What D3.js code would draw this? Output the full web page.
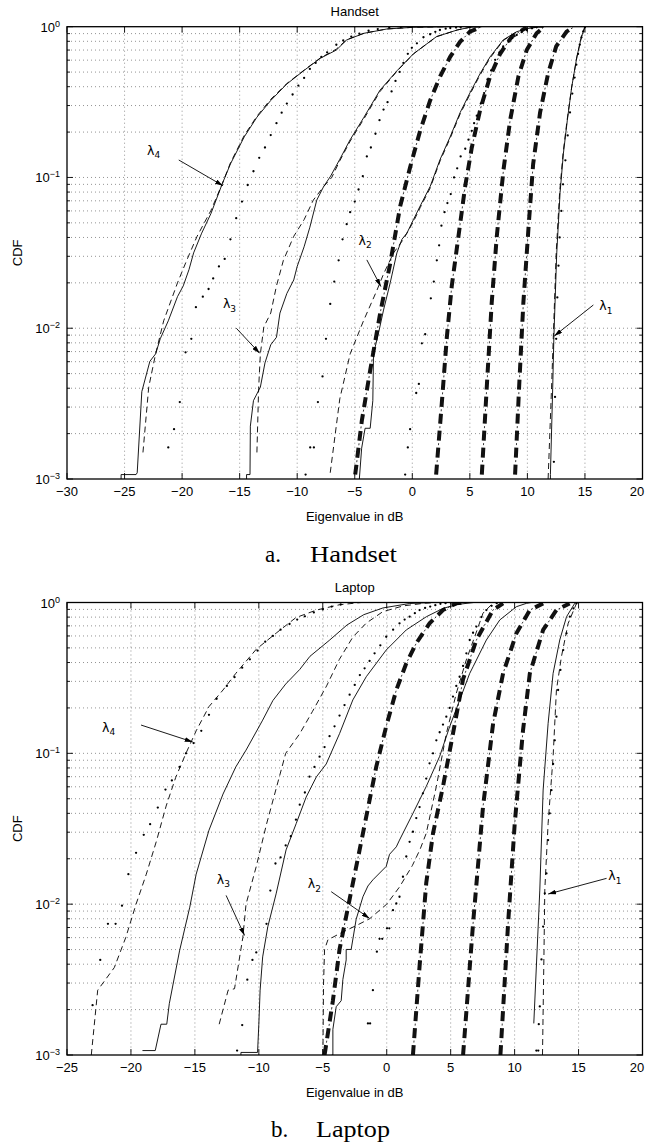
<!DOCTYPE html>
<html>
<head>
<meta charset="utf-8">
<script src="https://cdn.jsdelivr.net/npm/d3@7"></script>
<style>
  body { margin: 0; background: #fff; }
  svg { display: block; }
</style>
</head>
<body>
<script>
// ---- data: [eigenvalue in dB, CDF] ----

var yDecades = [1e-3, 1e-2, 1e-1, 1];
var hsXTicks = [-30, -25, -20, -15, -10, -5, 0, 5, 10, 15, 20];
var lpXTicks = [-25, -20, -15, -10, -5, 0, 5, 10, 15, 20];

// Handset
var hsL4Solid = [[-25.3,0.001],[-25.3,0.00107],[-24.0,0.00107],[-23.9,0.0011],[-23.5,0.0038],[-22.8,0.00603],[-22.3,0.00676],[-21.9,0.00851],[-21.2,0.0112],[-20.4,0.0162],[-19.9,0.0191],[-19.4,0.0245],[-19.0,0.0316],[-18.3,0.0427],[-17.5,0.0575],[-16.5,0.0912],[-15.8,0.123],[-14.6,0.186],[-13.5,0.251],[-12.3,0.324],[-10.9,0.417],[-9.4,0.513],[-8.0,0.617],[-6.6,0.7],[-5.7,0.817],[-4.2,0.904],[-2.2,0.966],[0.1,0.991],[3.0,1.0]];
var hsL4Dashed = [[-23.4,0.0015],[-22.9,0.00407],[-22.3,0.00676],[-21.6,0.0112],[-20.4,0.02],[-19.6,0.0282],[-18.7,0.0407],[-17.5,0.0603],[-16.5,0.0912],[-15.8,0.125],[-14.6,0.19],[-13.5,0.255],[-12.3,0.33],[-10.9,0.42],[-9.4,0.515],[-8.0,0.62],[-6.6,0.71],[-5.7,0.82],[-4.2,0.905],[-2.2,0.966],[0.1,0.991],[3.0,1.0]];
var hsL4Dotted = [[-21.2,0.00162],[-20.7,0.00214],[-20.2,0.00324],[-19.7,0.00692],[-19.2,0.00851],[-18.8,0.0138],[-18.2,0.0162],[-17.7,0.0182],[-17.3,0.0214],[-16.8,0.0257],[-16.3,0.0288],[-15.8,0.0389],[-15.3,0.0537],[-14.8,0.0692],[-14.3,0.0891],[-13.8,0.11],[-13.3,0.135],[-12.8,0.158],[-12.3,0.191],[-11.8,0.229],[-11.35,0.269],[-10.9,0.309],[-10.4,0.355],[-9.9,0.407],[-9.4,0.457],[-8.9,0.525],[-8.4,0.575],[-7.9,0.63],[-7.4,0.676],[-6.6,0.759],[-6.0,0.81],[-5.3,0.86],[-4.6,0.9],[-3.8,0.94],[-3.0,0.965],[-2.0,0.985],[-1.0,0.995]];
var hsL3Solid = [[-14.4,0.001],[-14.4,0.00107],[-14.1,0.00107],[-14.07,0.00224],[-13.8,0.00331],[-13.2,0.00407],[-12.8,0.00589],[-12.3,0.00776],[-11.8,0.00871],[-11.5,0.0126],[-10.9,0.017],[-10.3,0.0209],[-10.0,0.0257],[-9.4,0.0347],[-8.9,0.0468],[-8.3,0.0708],[-7.7,0.0871],[-7.1,0.102],[-6.3,0.132],[-5.4,0.178],[-4.2,0.251],[-2.8,0.38],[-1.3,0.513],[0.1,0.661],[2.1,0.859],[3.9,0.951],[5.0,0.991],[6.0,1.0]];
var hsL3Dashed = [[-13.5,0.0015],[-13.35,0.004],[-13.2,0.00676],[-12.9,0.0102],[-12.3,0.0126],[-11.8,0.0191],[-11.2,0.0282],[-10.3,0.0407],[-9.4,0.0525],[-8.6,0.0708],[-7.7,0.0871],[-7.0,0.1],[-6.3,0.129],[-5.4,0.174],[-4.2,0.245],[-2.8,0.372],[-1.3,0.51],[0.1,0.66],[2.1,0.859],[3.9,0.951],[5.0,0.991],[6.0,1.0]];
var hsL3Dotted = [[-9.27,0.00107],[-8.87,0.00162],[-8.55,0.00162],[-8.2,0.00324],[-7.8,0.00479],[-7.5,0.00851],[-7.13,0.0145],[-6.78,0.0204],[-6.4,0.0282],[-6.06,0.0389],[-5.7,0.049],[-5.4,0.0589],[-5.0,0.0692],[-4.67,0.0832],[-4.3,0.102],[-3.95,0.138],[-3.6,0.158],[-3.2,0.195],[-2.85,0.24],[-2.5,0.282],[-2.15,0.316],[-1.8,0.372],[-1.46,0.437],[-1.1,0.501],[-0.77,0.575],[-0.39,0.661],[-0.04,0.724],[0.4,0.776],[0.97,0.851],[1.55,0.891],[2.0,0.925],[2.4,0.951],[2.9,0.97],[3.3,0.98],[3.8,0.988],[4.2,0.993],[5.0,1.0]];
var hsL2Solid = [[-4.6,0.001],[-4.4,0.0016],[-4.1,0.00217],[-3.66,0.00217],[-3.43,0.00331],[-3.37,0.00676],[-2.93,0.00933],[-2.5,0.0132],[-1.92,0.02],[-1.34,0.0316],[-0.9,0.0389],[-0.47,0.0427],[0.1,0.0525],[0.68,0.0646],[1.55,0.0871],[2.42,0.132],[3.29,0.186],[4.15,0.269],[5.0,0.363],[5.9,0.49],[6.76,0.631],[7.9,0.817],[9.07,0.927],[10.23,0.98],[11.4,1.0]];
var hsL2Dashed = [[-7.13,0.0011],[-6.3,0.0034],[-5.4,0.00676],[-4.24,0.0112],[-3.08,0.0178],[-2.5,0.0229],[-1.63,0.0316],[-0.77,0.0389],[0.1,0.051],[0.68,0.063],[1.55,0.085],[2.42,0.129],[3.29,0.182],[4.15,0.263],[5.0,0.355],[5.9,0.48],[6.76,0.62],[7.9,0.81],[9.07,0.925],[10.23,0.98],[11.4,1.0]];
var hsL2Dotted = [[-0.62,0.00107],[-0.39,0.00162],[-0.19,0.00214],[0.34,0.00372],[0.57,0.00427],[0.83,0.00794],[1.12,0.00912],[1.61,0.0158],[1.87,0.0204],[2.13,0.0282],[2.33,0.0355],[2.53,0.0479],[2.8,0.0589],[3.05,0.0676],[3.34,0.0776],[3.63,0.1],[3.9,0.115],[4.2,0.138],[4.6,0.155],[4.88,0.178],[5.17,0.204],[5.37,0.229],[5.6,0.257],[5.95,0.309],[6.24,0.363],[6.53,0.447],[6.85,0.513],[7.2,0.603],[7.57,0.676],[7.9,0.741],[8.35,0.794],[8.7,0.84],[9.07,0.881],[9.5,0.92],[9.94,0.951],[10.4,0.975],[10.8,0.991],[11.3,1.0]];
var hsL1Solid = [[12.0,0.001],[12.0,0.00107],[12.2,0.00407],[12.3,0.00871],[12.55,0.0316],[12.84,0.0794],[13.13,0.145],[13.47,0.24],[13.85,0.398],[14.3,0.631],[14.7,0.859],[15.0,1.0]];
var hsL1Dashed = [[11.8,0.001],[12.1,0.00407],[12.25,0.00871],[12.5,0.0316],[12.8,0.0794],[13.1,0.145],[13.45,0.24],[13.85,0.398],[14.3,0.631],[14.7,0.859],[15.0,1.0]];
var hsL1Dotted = [[12.3,0.0013],[12.4,0.0035],[12.5,0.0085],[12.6,0.016],[12.7,0.026],[12.8,0.04],[12.95,0.06],[13.1,0.09],[13.3,0.13],[13.5,0.19],[13.7,0.27],[13.9,0.36],[14.1,0.46],[14.25,0.56],[14.4,0.66],[14.55,0.76],[14.7,0.85],[14.85,0.93],[15.0,0.99]];
var hsThick1 = [[-4.96,0.00107],[-4.38,0.00245],[-3.66,0.00525],[-2.79,0.0126],[-1.92,0.0269],[-1.05,0.0646],[-0.19,0.117],[0.68,0.204],[1.55,0.324],[2.42,0.468],[3.29,0.631],[4.15,0.794],[5.0,0.927],[5.9,0.991]];
var hsThick2 = [[2.07,0.00107],[2.56,0.00316],[3.0,0.00871],[3.43,0.0191],[4.01,0.0407],[4.59,0.0871],[5.17,0.158],[5.9,0.282],[6.76,0.468],[7.63,0.661],[8.64,0.859],[9.94,0.991]];
var hsThick3 = [[6.04,0.00107],[6.47,0.00407],[6.9,0.0148],[7.34,0.0407],[7.92,0.112],[8.5,0.24],[9.22,0.468],[9.94,0.7],[10.8,0.904],[11.4,0.991]];
var hsThick4 = [[8.93,0.00107],[9.28,0.00407],[9.65,0.0148],[10.1,0.0468],[10.5,0.123],[11.1,0.269],[11.8,0.49],[12.5,0.741],[13.4,0.927],[14.0,0.991]];

// Laptop
var lpL4Solid = [[-19.1,0.00107],[-18.1,0.00107],[-17.65,0.0016],[-17.2,0.0016],[-17.0,0.00219],[-16.2,0.0049],[-15.4,0.00955],[-14.9,0.0158],[-13.9,0.0309],[-12.8,0.0537],[-11.8,0.0813],[-11.0,0.105],[-9.7,0.166],[-8.9,0.224],[-7.9,0.288],[-6.8,0.36],[-6.0,0.44],[-4.5,0.56],[-3.1,0.71],[-1.8,0.83],[-0.3,0.92],[1.8,0.985],[3.5,1.0]];
var lpL4Dashed = [[-23.1,0.001],[-22.6,0.00269],[-21.3,0.0038],[-20.4,0.00603],[-19.6,0.01],[-18.8,0.0158],[-18.0,0.0263],[-17.25,0.0447],[-16.5,0.0692],[-15.7,0.1],[-14.9,0.141],[-13.9,0.204],[-12.8,0.263],[-11.8,0.339],[-10.2,0.49],[-8.6,0.631],[-7.1,0.794],[-5.5,0.891],[-3.7,0.966],[-2.0,1.0]];
var lpL4Dotted = [[-23.0,0.00214],[-22.4,0.00427],[-21.8,0.00741],[-21.2,0.00741],[-20.7,0.00977],[-20.2,0.0158],[-19.6,0.0219],[-19.0,0.0288],[-18.5,0.0339],[-17.9,0.0437],[-17.3,0.0575],[-16.8,0.0661],[-16.2,0.0813],[-15.7,0.1],[-15.1,0.117],[-14.5,0.141],[-13.9,0.18],[-13.3,0.23],[-12.5,0.28],[-11.9,0.32],[-11.3,0.37],[-10.7,0.42],[-10.1,0.48],[-9.5,0.55],[-8.9,0.6],[-8.3,0.66],[-7.6,0.72],[-7.0,0.77],[-6.4,0.81],[-5.7,0.86],[-5.0,0.9],[-4.3,0.94],[-3.6,0.97]];
var lpL3Solid = [[-11.4,0.001],[-11.4,0.00104],[-10.1,0.00104],[-10.0,0.0016],[-9.9,0.00269],[-9.7,0.00447],[-9.3,0.00708],[-8.65,0.0117],[-7.87,0.0229],[-7.08,0.0342],[-6.3,0.0513],[-5.5,0.0698],[-4.73,0.085],[-3.69,0.135],[-2.65,0.226],[-1.6,0.322],[-0.04,0.484],[1.53,0.658],[3.1,0.805],[4.4,0.914],[5.5,0.97],[6.8,1.0]];
var lpL3Dashed = [[-13.1,0.0016],[-12.4,0.00269],[-11.9,0.00275],[-11.25,0.00603],[-11.0,0.01],[-10.2,0.0178],[-9.4,0.0339],[-8.6,0.0603],[-7.9,0.1],[-6.8,0.135],[-5.8,0.19],[-4.7,0.28],[-3.7,0.42],[-2.65,0.59],[-1.6,0.73],[-0.3,0.87],[1.3,0.95],[3.0,0.99],[4.0,1.0]];
var lpL3Dotted = [[-11.7,0.00107],[-11.3,0.00158],[-10.9,0.00316],[-10.5,0.00427],[-10.2,0.00479],[-9.4,0.00741],[-9.1,0.0123],[-8.7,0.0186],[-8.3,0.0204],[-7.9,0.0245],[-7.5,0.0282],[-7.1,0.0363],[-6.8,0.0457],[-6.4,0.055],[-6.04,0.07],[-5.65,0.0813],[-5.25,0.095],[-4.86,0.11],[-4.47,0.13],[-4.08,0.151],[-3.69,0.178],[-3.3,0.209],[-2.9,0.245],[-2.5,0.284],[-2.1,0.33],[-1.73,0.366],[-1.34,0.41],[-0.95,0.46],[-0.5,0.52],[-0.04,0.593],[0.5,0.66],[1.0,0.728],[1.4,0.77],[1.79,0.805],[2.2,0.85],[2.57,0.891],[3.0,0.92],[3.4,0.94],[3.8,0.96],[4.2,0.98],[4.6,0.99],[5.0,1.0]];
var lpL2Solid = [[-4.3,0.001],[-4.21,0.001],[-4.21,0.00148],[-3.95,0.00209],[-3.56,0.00229],[-3.43,0.00316],[-3.17,0.00427],[-3.17,0.00501],[-2.78,0.00501],[-2.39,0.00794],[-1.86,0.0112],[-1.47,0.0132],[-1.08,0.0145],[-0.04,0.0178],[0.22,0.0214],[0.75,0.024],[1.0,0.0266],[2.05,0.04],[3.09,0.0603],[4.14,0.0955],[4.92,0.15],[5.7,0.225],[6.49,0.339],[6.75,0.375],[7.79,0.564],[8.84,0.766],[10.14,0.938],[10.92,0.987],[11.3,1.0]];
var lpL2Dashed = [[-4.99,0.001],[-4.94,0.003],[-4.86,0.005],[-4.6,0.0058],[-3.5,0.0065],[-2.4,0.0072],[-1.34,0.008],[0.0,0.01],[1.0,0.013],[2.0,0.018],[2.6,0.023],[3.09,0.0295],[3.88,0.0603],[4.66,0.135],[5.44,0.25],[6.22,0.416],[6.9,0.6],[7.53,0.85],[8.3,0.99]];
var lpL2Dotted = [[-1.47,0.00162],[-1.3,0.00162],[-1.08,0.00269],[-0.77,0.00484],[-0.56,0.00589],[-0.35,0.00589],[0.02,0.00692],[0.2,0.00692],[0.49,0.00912],[0.75,0.0101],[1.0,0.0112],[1.27,0.0152],[1.53,0.0207],[1.79,0.0259],[2.05,0.0302],[2.31,0.0372],[2.57,0.044],[2.83,0.0543],[3.09,0.068],[3.35,0.0859],[3.62,0.1],[3.88,0.122],[4.14,0.138],[4.4,0.155],[4.66,0.175],[4.92,0.2],[5.18,0.238],[5.44,0.28],[5.7,0.322],[5.97,0.38],[6.23,0.46],[6.49,0.564],[6.75,0.63],[7.01,0.692],[7.4,0.8],[7.79,0.891],[8.2,0.95],[8.6,0.99]];
var lpL1Solid = [[11.5,0.00162],[11.97,0.0124],[12.23,0.0571],[12.62,0.158],[13.01,0.339],[13.53,0.564],[14.06,0.805],[14.7,0.987],[14.8,1.0]];
var lpL1Dashed = [[12.18,0.001],[12.3,0.005],[12.36,0.0124],[12.62,0.0343],[13.01,0.095],[13.27,0.263],[13.66,0.437],[14.19,0.728],[14.84,0.987],[14.9,1.0]];
var lpL1Dotted = [[11.7,0.00107],[11.85,0.00107],[11.89,0.0016],[11.97,0.0021],[12.1,0.0043],[12.23,0.0071],[12.36,0.0118],[12.49,0.016],[12.62,0.0266],[12.75,0.04],[12.88,0.057],[13.01,0.085],[13.14,0.122],[13.27,0.175],[13.4,0.263],[13.58,0.357],[13.8,0.484],[14.06,0.625],[14.32,0.805],[14.6,0.914],[14.84,0.987]];
var lpThick1 = [[-4.86,0.001],[-4.21,0.00229],[-3.69,0.00501],[-2.91,0.0107],[-2.12,0.0229],[-1.6,0.038],[-0.82,0.0813],[-0.04,0.151],[0.75,0.263],[1.53,0.395],[2.31,0.537],[3.35,0.728],[4.4,0.891],[5.44,0.987],[6.0,1.0]];
var lpThick2 = [[2.05,0.001],[2.57,0.00389],[3.09,0.0138],[3.62,0.0295],[4.4,0.0603],[5.18,0.135],[5.97,0.31],[7.01,0.564],[8.3,0.891],[9.1,0.987]];
var lpThick3 = [[5.97,0.001],[6.75,0.00741],[7.53,0.0443],[8.32,0.158],[9.1,0.339],[10.14,0.625],[11.19,0.891],[12.23,0.987]];
var lpThick4 = [[8.89,0.001],[9.49,0.00741],[10.01,0.0343],[10.66,0.143],[11.19,0.339],[12.23,0.658],[13.27,0.891],[14.3,0.987]];

// annotations: label = [dB, CDF] at glyph baseline-left, tail / tip = arrow ends
var hsLabels = [
    {sub: "4", label: [-23.04, 0.141], tail: [-20.29, 0.1306], tip: [-16.45, 0.0882]},
    {sub: "3", label: [-16.45, 0.01355], tail: [-15.29, 0.01], tip: [-13.26, 0.00682]},
    {sub: "2", label: [-4.67, 0.0357], tail: [-3.95, 0.0284], tip: [-2.73, 0.0189]},
    {sub: "1", label: [16.25, 0.0132], tail: [15.73, 0.01426], tip: [12.34, 0.00889]}
];
var lpLabels = [
    {sub: "4", label: [-22.26, 0.139], tail: [-19.21, 0.154], tip: [-15.17, 0.119]},
    {sub: "3", label: [-13.29, 0.01368], tail: [-12.56, 0.01143], tip: [-11.12, 0.0062]},
    {sub: "2", label: [-6.17, 0.01273], tail: [-4.34, 0.0121], tip: [-1.34, 0.00805]},
    {sub: "1", label: [17.32, 0.01445], tail: [17.19, 0.01483], tip: [12.62, 0.01167]}
];

var W = 646, H = 1146;
var sans = "'Liberation Sans', Arial, Helvetica, sans-serif";
var serif = "'Liberation Serif', 'Times New Roman', serif";

var svg = d3.select("body").append("svg").attr("width", W).attr("height", H);
var defs = svg.append("defs");
defs.append("marker")
    .attr("id", "arrowhead")
    .attr("viewBox", "0 0 10 6")
    .attr("refX", 10).attr("refY", 3)
    .attr("markerWidth", 8).attr("markerHeight", 4.8)
    .attr("markerUnits", "userSpaceOnUse")
    .attr("orient", "auto")
    .append("path").attr("d", "M0,0 L10,3 L0,6 Z").attr("fill", "#000");

var renderPanel = function(p) {
    var x = d3.scaleLinear()
        .domain([p.xTicks[0], p.xTicks[p.xTicks.length - 1]])
        .range([p.left, p.right]);
    var y = d3.scaleLog().domain([1e-3, 1]).range([p.bottom, p.top]);
    var line = d3.line().x(d => x(d[0])).y(d => y(d[1]));
    var g = svg.append("g");

    defs.append("clipPath").attr("id", "clip-" + p.id)
        .append("rect")
        .attr("x", p.left).attr("y", p.top)
        .attr("width", p.right - p.left).attr("height", p.bottom - p.top);

    // grid: decades and minor log steps, plus major x ticks
    var yMinor = [];
    yDecades.forEach(function(d) {
        for (var k = 2; k < 10; k++) { if (d * k < 1) yMinor.push(d * k); }
    });
    var yAll = yMinor.concat(yDecades.slice(1, 3));
    var gridColor = "#666";
    g.append("g").selectAll("line").data(yAll).enter().append("line")
        .attr("x1", p.left).attr("x2", p.right)
        .attr("y1", d => y(d)).attr("y2", d => y(d))
        .attr("stroke", gridColor).attr("stroke-width", 0.7)
        .attr("stroke-dasharray", "1,3");
    g.append("g").selectAll("line").data(p.xTicks.slice(1, -1)).enter().append("line")
        .attr("x1", d => x(d)).attr("x2", d => x(d))
        .attr("y1", p.top).attr("y2", p.bottom)
        .attr("stroke", gridColor).attr("stroke-width", 0.7)
        .attr("stroke-dasharray", "1,3");

    var curves = g.append("g").attr("clip-path", "url(#clip-" + p.id + ")");

    // thick dash-dot (thick dash + thin dot in the gap)
    p.thick.forEach(function(s) {
        curves.append("path").attr("d", line(s))
            .attr("fill", "none").attr("stroke", "#111").attr("stroke-width", 4)
            .attr("stroke-dasharray", "10,7");
        curves.append("path").attr("d", line(s))
            .attr("fill", "none").attr("stroke", "#222").attr("stroke-width", 0.9)
            .attr("stroke-dasharray", "2,15").attr("stroke-dashoffset", 4.5);
    });
    p.solid.forEach(function(s) {
        curves.append("path").attr("d", line(s))
            .attr("fill", "none").attr("stroke", "#000").attr("stroke-width", 0.9);
    });
    p.dashed.forEach(function(s) {
        curves.append("path").attr("d", line(s))
            .attr("fill", "none").attr("stroke", "#000").attr("stroke-width", 0.9)
            .attr("stroke-dasharray", "6,4");
    });
    p.dotted.forEach(function(s) {
        curves.append("g").selectAll("circle").data(s).enter().append("circle")
            .attr("cx", d => x(d[0])).attr("cy", d => y(d[1]))
            .attr("r", 1.15).attr("fill", "#000");
    });

    // frame
    g.append("rect")
        .attr("x", p.left).attr("y", p.top)
        .attr("width", p.right - p.left).attr("height", p.bottom - p.top)
        .attr("fill", "none").attr("stroke", "#000").attr("stroke-width", 1.3);

    // ticks, inward on all four sides
    var ticks = g.append("g").attr("stroke", "#000").attr("stroke-width", 0.9);
    p.xTicks.forEach(function(d) {
        ticks.append("line").attr("x1", x(d)).attr("x2", x(d)).attr("y1", p.bottom).attr("y2", p.bottom - 6);
        ticks.append("line").attr("x1", x(d)).attr("x2", x(d)).attr("y1", p.top).attr("y2", p.top + 6);
    });
    yDecades.forEach(function(d) {
        ticks.append("line").attr("x1", p.left).attr("x2", p.left + 6).attr("y1", y(d)).attr("y2", y(d));
        ticks.append("line").attr("x1", p.right).attr("x2", p.right - 6).attr("y1", y(d)).attr("y2", y(d));
    });
    yMinor.forEach(function(d) {
        ticks.append("line").attr("x1", p.left).attr("x2", p.left + 3).attr("y1", y(d)).attr("y2", y(d));
        ticks.append("line").attr("x1", p.right).attr("x2", p.right - 3).attr("y1", y(d)).attr("y2", y(d));
    });

    // x tick labels (the last one is kept inside the page edge)
    g.append("g").selectAll("text").data(p.xTicks).enter().append("text")
        .attr("x", d => Math.min(x(d), W - 9))
        .attr("y", p.bottom + 17)
        .attr("text-anchor", "middle")
        .attr("font-family", sans).attr("font-size", 13)
        .text(d => d < 0 ? "\u2212" + Math.abs(d) : String(d));

    // y tick labels 10^k
    var yl = g.append("g").selectAll("text").data(yDecades).enter().append("text")
        .attr("x", p.left - 7).attr("y", d => y(d) + 5)
        .attr("text-anchor", "end")
        .attr("font-family", sans).attr("font-size", 13);
    yl.append("tspan").text("10");
    yl.append("tspan").attr("dy", -5).attr("font-size", 9)
        .text(d => {
            var e = Math.round(Math.log10(d));
            return e < 0 ? "\u2212" + Math.abs(e) : String(e);
        });

    // titles and axis labels
    g.append("text")
        .attr("x", (p.left + p.right) / 2).attr("y", p.top - 10.5)
        .attr("text-anchor", "middle")
        .attr("font-family", sans).attr("font-size", 13)
        .text(p.title);
    g.append("text")
        .attr("x", (p.left + p.right) / 2).attr("y", p.bottom + 41.5)
        .attr("text-anchor", "middle")
        .attr("font-family", sans).attr("font-size", 13)
        .text("Eigenvalue in dB");
    g.append("text")
        .attr("transform", "translate(22," + ((p.top + p.bottom) / 2) + ") rotate(-90)")
        .attr("text-anchor", "middle")
        .attr("font-family", sans).attr("font-size", 13)
        .text("CDF");

    // lambda labels with arrows
    p.labels.forEach(function(a) {
        g.append("line")
            .attr("x1", x(a.tail[0])).attr("y1", y(a.tail[1]))
            .attr("x2", x(a.tip[0])).attr("y2", y(a.tip[1]))
            .attr("stroke", "#000").attr("stroke-width", 0.9)
            .attr("marker-end", "url(#arrowhead)");
        var t = g.append("text")
            .attr("x", x(a.label[0])).attr("y", y(a.label[1]))
            .attr("font-family", "'DejaVu Sans', " + sans).attr("font-size", 12.5);
        t.append("tspan").text("\u03bb");
        t.append("tspan").attr("dy", 3.5).attr("font-size", 9).text(a.sub);
    });

    // caption below the panel
    g.append("text")
        .attr("x", p.captionX).attr("y", p.captionY)
        .attr("font-family", serif).attr("font-size", 23)
        .text(p.captionTag);
    g.append("text")
        .attr("x", p.captionX + 45).attr("y", p.captionY)
        .attr("font-family", serif).attr("font-size", 23)
        .attr("textLength", p.captionLen).attr("lengthAdjust", "spacingAndGlyphs")
        .text(p.title);
};

renderPanel({
    id: "handset", title: "Handset",
    left: 67, right: 642.5, top: 26.7, bottom: 479,
    xTicks: hsXTicks,
    solid: [hsL4Solid, hsL3Solid, hsL2Solid, hsL1Solid],
    dashed: [hsL4Dashed, hsL3Dashed, hsL2Dashed, hsL1Dashed],
    dotted: [hsL4Dotted, hsL3Dotted, hsL2Dotted, hsL1Dotted],
    thick: [hsThick1, hsThick2, hsThick3, hsThick4],
    labels: hsLabels,
    captionTag: "a.", captionX: 265, captionY: 561.5, captionLen: 87
});

renderPanel({
    id: "laptop", title: "Laptop",
    left: 67, right: 642.5, top: 602.5, bottom: 1055,
    xTicks: lpXTicks,
    solid: [lpL4Solid, lpL3Solid, lpL2Solid, lpL1Solid],
    dashed: [lpL4Dashed, lpL3Dashed, lpL2Dashed, lpL1Dashed],
    dotted: [lpL4Dotted, lpL3Dotted, lpL2Dotted, lpL1Dotted],
    thick: [lpThick1, lpThick2, lpThick3, lpThick4],
    labels: lpLabels,
    captionTag: "b.", captionX: 271, captionY: 1136.5, captionLen: 74
});
</script>
</body>
</html>
